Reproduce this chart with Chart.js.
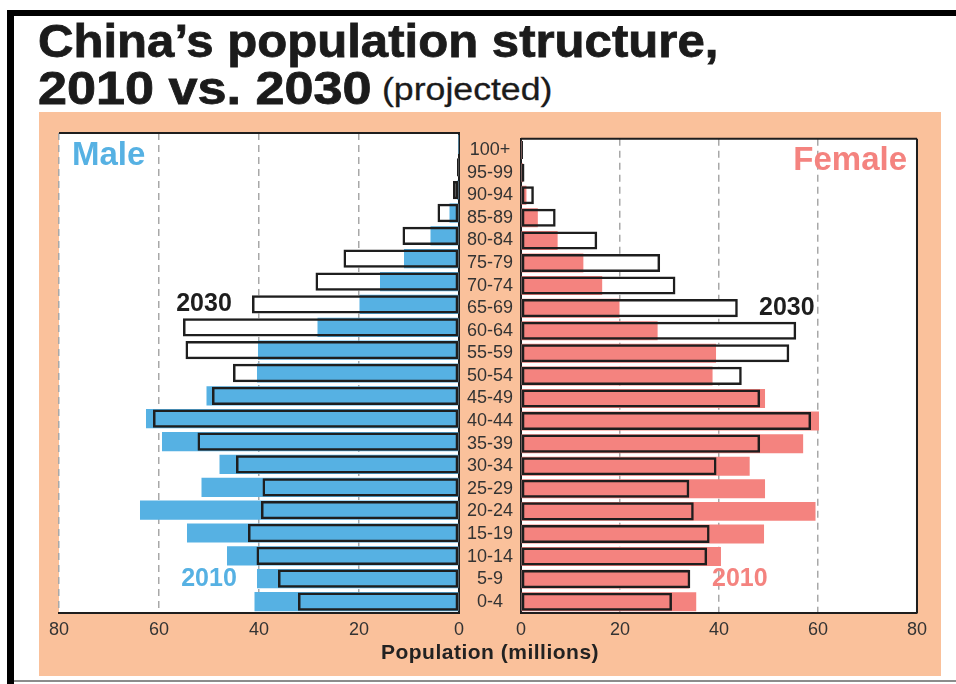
<!DOCTYPE html>
<html>
<head>
<meta charset="utf-8">
<title>China's population structure, 2010 vs. 2030</title>
<script src="https://cdn.jsdelivr.net/npm/chart.js@4.4.1/dist/chart.umd.min.js"></script>
<style>
    html, body { margin: 0; padding: 0; background: #fff; }
    body { width: 956px; height: 684px; position: relative; overflow: hidden; font-family: "Liberation Sans", Arial, sans-serif; }
    #frame { position: absolute; left: 7px; top: 10px; width: 960px; height: 674px; border-left: 7px solid #000; border-top: 6px solid #000; box-sizing: border-box; }
    #bottomLine { position: absolute; left: 14px; top: 680px; width: 942px; height: 2px; background: #8c8c8c; }
    .title { position: absolute; font-weight: bold; color: #1b1b1b; white-space: nowrap; transform-origin: left top; -webkit-text-stroke: 0.8px #1b1b1b; }
    #t1 { left: 38px; top: 13px; font-size: 47px; transform: scaleX(1.045); }
    #t2 { left: 38px; top: 60px; font-size: 47px; transform: scaleX(1.11); }
    #t3 { position: absolute; left: 382px; top: 72px; font-size: 31px; color: #1b1b1b; white-space: nowrap; transform-origin: left top; transform: scaleX(1.15); -webkit-text-stroke: 0.3px #1b1b1b; }
    #panel { position: absolute; left: 39px; top: 112px; width: 902px; height: 564px; background: #FAC19B; }
    #leftWrap { position: absolute; left: 40px; top: 120px; width: 430px; height: 550px; }
    #rightWrap { position: absolute; left: 458px; top: 120px; width: 475px; height: 550px; }
    #xTitle { position: absolute; left: 39px; width: 902px; top: 640px; text-align: center; font-weight: bold; font-size: 21px; letter-spacing: 0.5px; color: #222; }
</style>
</head>
<body>
<div id="frame"></div>
<div id="bottomLine"></div>
<div class="title" id="t1">China’s population structure,</div>
<div class="title" id="t2">2010 vs. 2030</div>
<div id="t3">(projected)</div>
<div id="panel"></div>
<div id="leftWrap"><canvas id="maleChart"></canvas></div>
<div id="rightWrap"><canvas id="femaleChart"></canvas></div>
<div id="xTitle">Population (millions)</div>

<script>
// Age groups, top to bottom
const ageGroups = ['100+', '95-99', '90-94', '85-89', '80-84', '75-79', '70-74', '65-69', '60-64', '55-59',
    '50-54', '45-49', '40-44', '35-39', '30-34', '25-29', '20-24', '15-19', '10-14', '5-9', '0-4'];

// Population in millions
const male2010 = [0.05, 0.15, 0.4, 1.9, 5.7, 11.0, 15.8, 19.9, 28.3, 40.2,
    40.4, 50.5, 62.6, 59.4, 47.9, 51.5, 63.8, 54.4, 46.4, 40.4, 40.9];
const male2030 = [0.1, 0.4, 1.2, 4.3, 11.3, 23.1, 28.7, 41.4, 55.2, 54.7,
    45.2, 49.4, 61.2, 52.3, 44.6, 39.3, 39.6, 42.2, 40.5, 36.2, 32.2];
const female2010 = [0.1, 0.4, 1.1, 3.4, 7.4, 12.6, 16.4, 19.9, 27.6, 39.4,
    38.7, 49.3, 60.2, 57.0, 46.2, 49.3, 59.5, 49.1, 40.4, 34.0, 35.4];
const female2030 = [0.4, 0.7, 2.6, 7.0, 15.4, 28.1, 31.2, 43.8, 55.6, 54.2,
    44.6, 48.3, 58.6, 48.3, 39.5, 34.0, 34.9, 38.1, 37.6, 34.2, 30.5];

const axisMax = 80;
const axisStep = 20;

const BLUE = '#56B1E3';
const PINK = '#F4837F';
const INK = '#1e1e1e';
const GRID = '#a8a8a8';
const FONT = '"Liberation Sans", Arial, sans-serif';

// White plot background + black lines on the plot edges
const panelFrame = {
    id: 'panelFrame',
    beforeDraw(chart) {
        const { ctx, chartArea: a } = chart;
        ctx.save();
        ctx.fillStyle = '#fff';
        ctx.fillRect(a.left, a.top, a.right - a.left, a.bottom - a.top);
        ctx.restore();
    },
    afterDraw(chart, args, opts) {
        const { ctx, chartArea: a } = chart;
        ctx.save();
        ctx.strokeStyle = INK;
        ctx.lineWidth = 2;
        ctx.beginPath();
        ctx.moveTo(a.left, a.top);
        ctx.lineTo(a.right, a.top);
        if (opts.right) {
            ctx.moveTo(a.right, a.top);
            ctx.lineTo(a.right, a.bottom);
        }
        ctx.stroke();
        ctx.restore();
    }
};

// Text labels placed with the chart's own scales
const notes = {
    id: 'notes',
    afterDatasetsDraw(chart, args, opts) {
        const { ctx } = chart;
        const xs = chart.scales.x, ys = chart.scales.y;
        (opts.items || []).forEach(n => {
            const y = n.between
                ? (ys.getPixelForValue(n.between[0]) + ys.getPixelForValue(n.between[1])) / 2
                : ys.getPixelForValue(n.row);
            ctx.save();
            ctx.font = n.font;
            ctx.fillStyle = n.color;
            ctx.textAlign = n.align || 'center';
            ctx.textBaseline = 'middle';
            ctx.fillText(n.text, xs.getPixelForValue(n.value), y);
            ctx.restore();
        });
    }
};

function makeDatasets(data2010, data2030, color) {
    return [
        // white body of the 2030 bar, behind everything
        { label: '2030 body', data: data2030, backgroundColor: '#fff', borderWidth: 0,
          grouped: false, order: 2, barPercentage: 0.8, categoryPercentage: 1 },
        { label: '2010', data: data2010, backgroundColor: color, borderWidth: 0,
          grouped: false, order: 1, barPercentage: 0.84, categoryPercentage: 1 },
        // 2030 outline on top
        { label: '2030', data: data2030, backgroundColor: 'rgba(0,0,0,0)', borderColor: INK,
          borderWidth: 2.5, borderSkipped: false, grouped: false, order: 0,
          barPercentage: 0.8, categoryPercentage: 1 }
    ];
}

function xScale(reverse) {
    return {
        reverse: reverse,
        min: 0,
        max: axisMax,
        ticks: { stepSize: axisStep, color: '#333', font: { family: FONT, size: 18 }, padding: 6 },
        grid: { color: GRID, lineWidth: 1.5, drawTicks: false },
        border: { display: true, color: INK, width: 2, dash: [7, 5] },
        afterFit: s => { s.height = 40; }
    };
}

new Chart(document.getElementById('maleChart'), {
    type: 'bar',
    data: { labels: ageGroups, datasets: makeDatasets(male2010, male2030, BLUE) },
    options: {
        indexAxis: 'y',
        responsive: true,
        maintainAspectRatio: false,
        animation: false,
        layout: { padding: { left: 19, right: 2, top: 13, bottom: 17 } },
        plugins: {
            legend: { display: false },
            tooltip: { enabled: false },
            panelFrame: { right: false },
            notes: {
                items: [
                    { text: 'Male', value: 77.4, between: [0, 1], align: 'left', color: BLUE, font: `bold 33px ${FONT}` },
                    { text: '2030', value: 51, row: 7, color: INK, font: `bold 25px ${FONT}` },
                    { text: '2010', value: 50, row: 19, color: BLUE, font: `bold 25px ${FONT}` }
                ]
            }
        },
        scales: {
            x: xScale(true),
            y: {
                position: 'right',
                ticks: { display: false },
                grid: { display: false, drawTicks: false },
                border: { display: true, color: INK, width: 2 },
                afterFit: s => { s.width = 0; }
            }
        }
    },
    plugins: [panelFrame, notes]
});

new Chart(document.getElementById('femaleChart'), {
    type: 'bar',
    data: { labels: ageGroups, datasets: makeDatasets(female2010, female2030, PINK) },
    options: {
        indexAxis: 'y',
        responsive: true,
        maintainAspectRatio: false,
        animation: false,
        layout: { padding: { left: 0, right: 14, top: 13, bottom: 17 } },
        plugins: {
            legend: { display: false },
            tooltip: { enabled: false },
            panelFrame: { right: true },
            notes: {
                items: [
                    { text: 'Female', value: 78, between: [0, 1], align: 'right', color: PINK, font: `bold 33px ${FONT}` },
                    { text: '2030', value: 53.7, row: 7, color: INK, font: `bold 25px ${FONT}` },
                    { text: '2010', value: 44.2, row: 19, color: PINK, font: `bold 25px ${FONT}` }
                ]
            }
        },
        scales: {
            x: xScale(false),
            y: {
                position: 'left',
                ticks: { color: '#333', font: { family: FONT, size: 18 }, crossAlign: 'center', padding: 8, autoSkip: false },
                grid: { display: false, drawTicks: false },
                border: { display: true, color: INK, width: 2 },
                afterFit: s => { s.width = 63; }
            }
        }
    },
    plugins: [panelFrame, notes]
});
</script>
</body>
</html>
